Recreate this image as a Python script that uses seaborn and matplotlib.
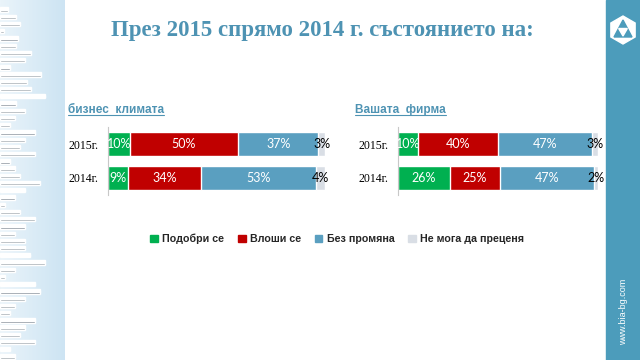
import numpy as np
import pandas as pd
import matplotlib
matplotlib.use('Agg')
import matplotlib.pyplot as plt
import seaborn as sns
from matplotlib.patches import Patch, Rectangle, RegularPolygon, Polygon
from matplotlib.lines import Line2D

# данни
years = ['2015г.', '2014г.']
answers = ['Подобри се', 'Влоши се', 'Без промяна', 'Не мога да преценя']
colors = ['#00b050', '#c00000', '#5a9fc0', '#d9dee5']

business_2015 = [10, 50, 37, 3]
business_2014 = [9, 34, 53, 4]
firm_2015 = [10, 40, 47, 3]
firm_2014 = [26, 25, 47, 2]

# декоративни ивици вляво (дължина в пиксели)
stripe_len = [8, 16, 20, 4, 18, 16, 31, 25, 10, 41, 27, 31, 45, 16,
              25, 15, 10, 35, 25, 20, 35, 10, 15, 20, 40, 25, 15, 5, 20,
              35, 25, 15, 25, 25, 30, 45, 15, 5, 35, 40, 25, 15, 10, 35,
              25, 20, 35, 10, 15]

sns.set_theme(style='white')
plt.rcParams['font.family'] = ['Liberation Sans', 'DejaVu Sans']

fig = plt.figure(figsize=(6.4, 3.6), dpi=100)
fig.patch.set_facecolor('white')

# фон
bg = fig.add_axes([0, 0, 1, 1], zorder=-5)
bg.set_xlim(0, 640)
bg.set_ylim(360, 0)
bg.axis('off')
grad = np.linspace(0, 1, 64).reshape(1, -1)
cmap = matplotlib.colors.LinearSegmentedColormap.from_list('g', ['#eaf4fa', '#cde4f3'])
bg.imshow(grad, extent=(0, 65, 360, 0), cmap=cmap, aspect='auto')
ys = np.linspace(9, 356, len(stripe_len))
bg.barh(ys + 1.6, stripe_len, height=2.2, color='#7f8a93', left=0)
bg.barh(ys - 0.4, stripe_len, height=2.4, color='white', left=0)
bg.add_patch(Rectangle((606, 0), 34, 360, color='#4c9cbb'))
bg.add_patch(RegularPolygon((623, 30), 6, radius=14, color='white'))
bg.add_patch(Polygon([(623, 20), (614, 37), (632, 37)], color='#4c9cbb'))
bg.add_patch(RegularPolygon((623, 31), 3, radius=5, color='white'))
bg.text(624, 312, 'www.bia-bg.com', rotation=90, color='white', fontsize=6.5,
        ha='center', va='center')

# заглавие
fig.text(0.503, 0.915, 'През 2015 спрямо 2014 г. състоянието на:', ha='center', va='center',
         fontsize=16.5, fontweight='bold', color='#4e93b3', family=['Liberation Serif', 'DejaVu Serif'])


def draw_stack(ax, v2015, v2014, subtitle, sub_x):
    mat = np.array([v2015, v2014])
    cum = mat.cumsum(axis=1)
    for i in reversed(range(len(answers))):
        df = pd.DataFrame({'year': years, 'val': cum[:, i]})
        sns.barplot(data=df, x='val', y='year', order=years, orient='h', color=colors[i],
                    saturation=1, width=0.68, ax=ax)
    for j in range(len(years)):
        for i in range(len(answers)):
            c = cum[j, i] - mat[j, i] / 2
            ax.text(c, j, f'{mat[j, i]}%', ha='center', va='center', fontsize=9,
                    color='black' if i == 3 else 'white', family=['Lato', 'DejaVu Sans'])
    ax.set_xlim(0, 100)
    ax.set_ylim(1.5, -0.5)
    ax.set_xticks([])
    ax.set_xlabel('')
    ax.set_ylabel('')
    for s in ['top', 'right', 'bottom']:
        ax.spines[s].set_visible(False)
    ax.spines['left'].set_color('#c8c8c8')
    ax.spines['left'].set_linewidth(0.8)
    ax.tick_params(axis='y', length=0, pad=7)
    for t in ax.get_yticklabels():
        t.set_family(['Liberation Serif', 'DejaVu Serif'])
        t.set_fontsize(8.5)
        t.set_color('black')
    ax.set_facecolor('none')
    st = fig.text(sub_x, 0.695, subtitle, ha='left', va='center', fontsize=8.5,
                  fontweight='bold', color='#4e93b3')
    return st


ax1 = fig.add_axes([108 / 640, 165 / 360, 217 / 640, 68 / 360])
ax2 = fig.add_axes([398 / 640, 165 / 360, 200 / 640, 68 / 360])
s1 = draw_stack(ax1, business_2015, business_2014, 'бизнес  климата', 68 / 640)
s2 = draw_stack(ax2, firm_2015, firm_2014, 'Вашата  фирма', 355 / 640)

# подчертаване
fig.canvas.draw()
r = fig.canvas.get_renderer()
for st in [s1, s2]:
    bb = st.get_window_extent(r).transformed(fig.transFigure.inverted())
    fig.add_artist(Line2D([bb.x0, bb.x1], [bb.y0 + 0.002, bb.y0 + 0.002], color='#4e93b3',
                          lw=0.8, transform=fig.transFigure))

handles = [Patch(color=c) for c in colors]
leg = fig.legend(handles, answers, loc='center', bbox_to_anchor=(0.527, 0.336), ncol=4,
                 frameon=False, handlelength=0.7, handleheight=0.7, handletextpad=0.4,
                 columnspacing=1.3, prop={'size': 7.7, 'weight': 'bold'})
for t in leg.get_texts():
    t.set_color('#262626')

fig.savefig('out.png', dpi=100)
